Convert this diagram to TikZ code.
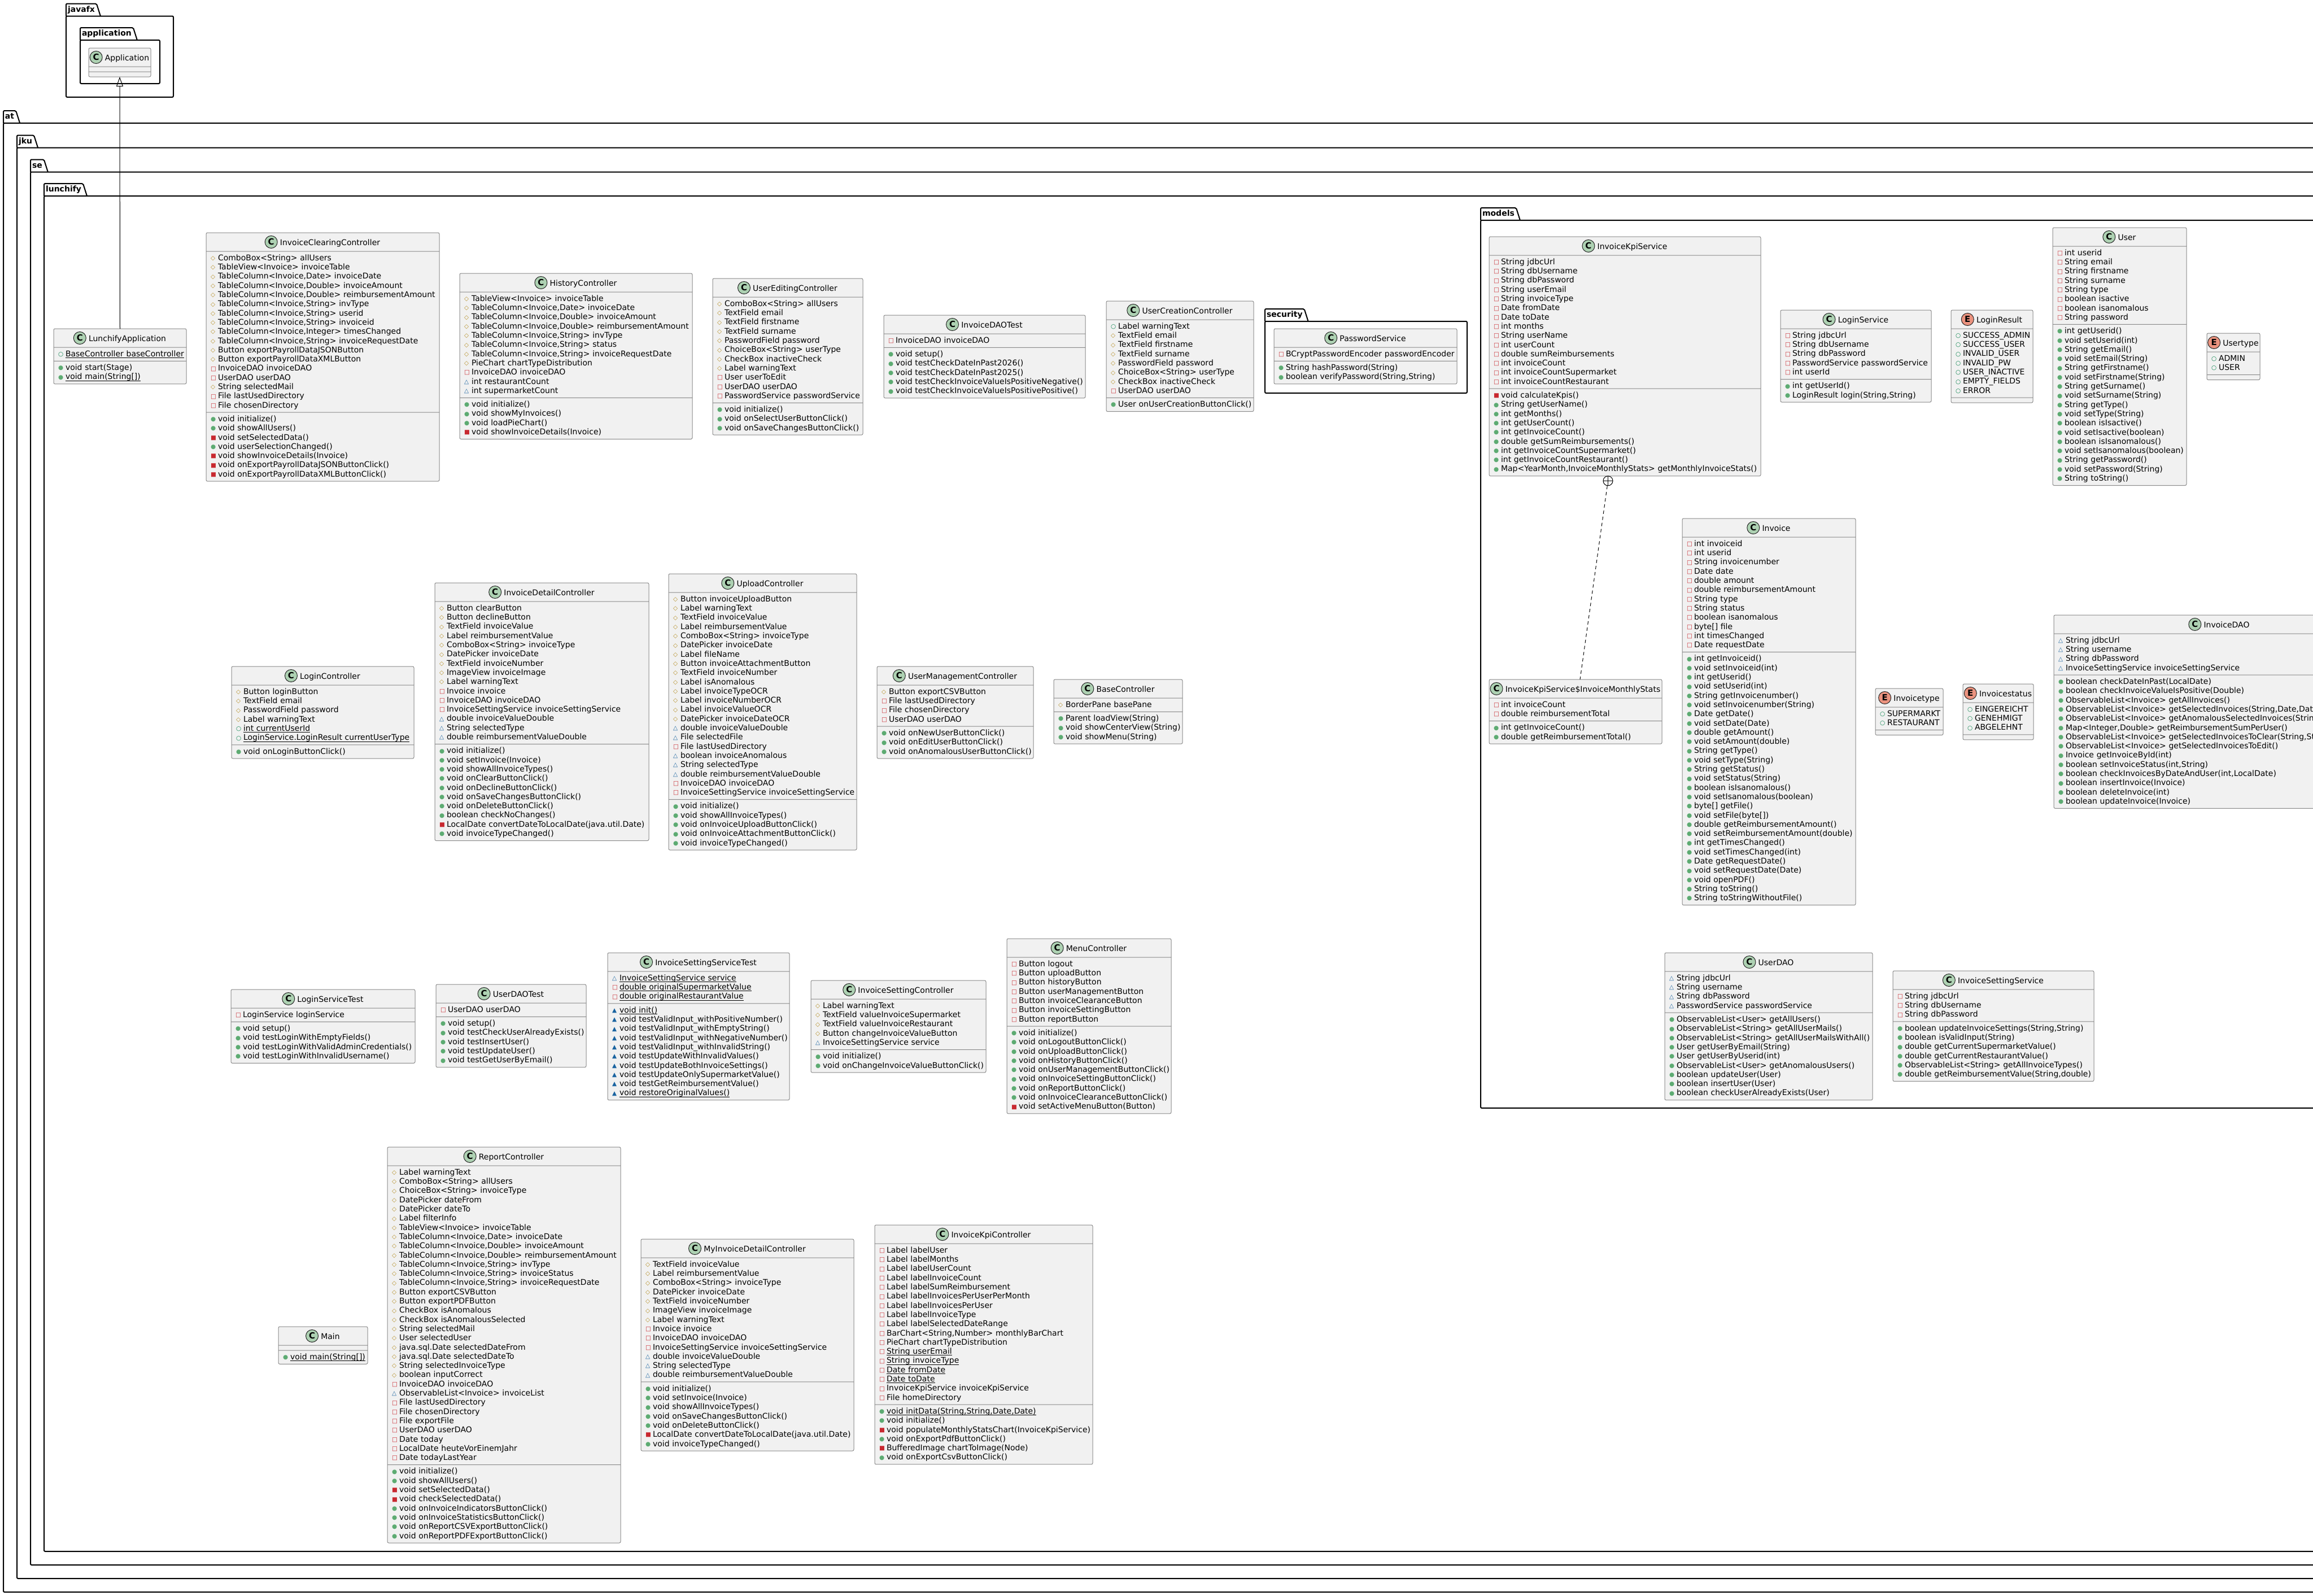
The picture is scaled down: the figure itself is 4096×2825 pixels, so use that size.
\documentclass[tikz,border=0pt]{standalone}
\usepackage{fontspec}
\setmainfont{DejaVu Sans}
\usetikzlibrary{positioning,calc,shapes.multipart,arrows.meta}

\definecolor{classbg}{HTML}{F1F1F1}
\definecolor{classline}{HTML}{8A8A8A}
\definecolor{iconC}{HTML}{ADD1B2}
\definecolor{iconE}{HTML}{EB937F}
\definecolor{vred}{HTML}{C82930}
\definecolor{vgold}{HTML}{B38D22}
\definecolor{vblue}{HTML}{1963A0}
\definecolor{vgreen}{HTML}{038048}
\definecolor{vgreenfill}{HTML}{84BE84}

\newcommand\memline[2]{\noindent\rule[-4pt]{0pt}{16.3pt}\makebox[13pt][l]{\raisebox{0.8pt}{\fontsize{10.5}{10.5}\selectfont #1}}\mbox{#2}\par}
\newcommand\privf[1]{\memline{\color{vred}□}{#1}}
\newcommand\privm[1]{\memline{\color{vred}■}{#1}}
\newcommand\protf[1]{\memline{\color{vgold}◇}{#1}}
\newcommand\pkgf[1]{\memline{\color{vblue}△}{#1}}
\newcommand\pkgm[1]{\memline{\color{vblue}▲}{#1}}
\newcommand\pubf[1]{\memline{\color{vgreen}○}{#1}}
\newcommand\pubm[1]{\memline{\color{vgreenfill!70!vgreen}●}{#1}}
\newcommand\nomember{\noindent\rule{0pt}{1pt}}
\newcommand\statmem[1]{\setbox0\hbox{#1}\rlap{\rule[-2.5pt]{\wd0}{0.8pt}}\box0}

\tikzset{
  classbox/.style={rectangle split, rectangle split parts=3, draw=classline, fill=classbg,
    line width=1pt, rounded corners=2.5pt, inner xsep=8pt, inner ysep=3.5pt, outer sep=0pt,
    align=left, anchor=north west, font=\fontsize{14}{16.3}\selectfont},
  classname/.style={inner sep=0pt, text height=11pt, text depth=0pt, font=\fontsize{14}{16.3}\selectfont},
  kindicon/.style={circle, draw=black!85, line width=1pt, fill=icon#1, minimum size=22pt,
    inner sep=0pt, font=\bfseries\fontsize{15}{15}\selectfont},
  pkgname/.style={anchor=north west, inner xsep=3pt, inner ysep=0pt, outer sep=0pt, minimum height=22pt,
    text height=10pt, text depth=3pt, font=\bfseries\fontsize{14}{16}\selectfont},
  pkgline/.style={line width=2pt, rounded corners=2pt},
  inherit/.style={-{Triangle[open,width=12pt,length=17pt]}, line width=1pt},
  nestmark/.style={circle, draw, line width=1pt, minimum size=17pt, inner sep=0pt, fill=white,
    path picture={\draw[line width=1pt] (path picture bounding box.north) -- (path picture bounding box.south)
      (path picture bounding box.west) -- (path picture bounding box.east);}},
  nested/.style={line width=1pt, dash pattern=on 6pt off 5pt}
}

\newcommand\umlbox[8]{%
  \pgfmathsetmacro\boxtw{#4-16}%
  \node[classbox, text width=\boxtw pt] (#1) at (#2,#3)
    {\noindent\rule{0pt}{25pt}\nodepart{two}#7\nodepart{three}#8};
  \node[classname] (#1-n) at ($(#1.north)+(13,16.5)$) {#6};
  \node[kindicon=#5, left=4pt of #1-n] (#1-k) {#5};
}

\begin{document}
\begin{tikzpicture}[x=1pt,y=-1pt]
\useasboundingbox (0,0) rectangle (4096,2825);
\clip (0,0) rectangle (4096,2825);

\foreach \pk/\x/\y/\r/\b in {javafx/117/6.5/307/172, application/142/49/283/148,
    at/6/196/4200/2819, jku/30/239.5/4200/2795, se/54/282.5/4200/2771, lunchify/78/325/4200/2747,
    security/2240/547/2598/696, models/2622/368/4200/1962}{
  \node[pkgname] (pkg-\pk) at (\x,\y) {\pk};
  \draw[pkgline] (pkg-\pk.south west) -- (pkg-\pk.north west) -- (pkg-\pk.north east) -- ([xshift=7pt]pkg-\pk.south east);
  \draw[pkgline] (pkg-\pk.south west) rectangle (\r,\b);
}

\umlbox{application}{157}{85}{110}{C}{Application}{\nomember}{\nomember}

\umlbox{lunchapp}{95}{582}{235}{C}{LunchifyApplication}
  {\pubf{\statmem{BaseController baseController}}}
  {\pubm{void start(Stage)}\pubm{\statmem{void main(String[])}}}

\umlbox{clearing}{365}{412}{413}{C}{InvoiceClearingController}
  {\protf{ComboBox<String> allUsers}\protf{TableView<Invoice> invoiceTable}
   \protf{TableColumn<Invoice,Date> invoiceDate}\protf{TableColumn<Invoice,Double> invoiceAmount}
   \protf{TableColumn<Invoice,Double> reimbursementAmount}\protf{TableColumn<Invoice,String> invType}
   \protf{TableColumn<Invoice,String> userid}\protf{TableColumn<Invoice,String> invoiceid}
   \protf{TableColumn<Invoice,Integer> timesChanged}\protf{TableColumn<Invoice,String> invoiceRequestDate}
   \protf{Button exportPayrollDataJSONButton}\protf{Button exportPayrollDataXMLButton}
   \privf{InvoiceDAO invoiceDAO}\privf{UserDAO userDAO}\protf{String selectedMail}
   \privf{File lastUsedDirectory}\privf{File chosenDirectory}}
  {\pubm{void initialize()}\pubm{void showAllUsers()}\privm{void setSelectedData()}
   \pubm{void userSelectionChanged()}\privm{void showInvoiceDetails(Invoice)}
   \privm{void onExportPayrollDataJSONButtonClick()}\privm{void onExportPayrollDataXMLButtonClick()}}

\umlbox{history}{814}{484}{412}{C}{HistoryController}
  {\protf{TableView<Invoice> invoiceTable}\protf{TableColumn<Invoice,Date> invoiceDate}
   \protf{TableColumn<Invoice,Double> invoiceAmount}\protf{TableColumn<Invoice,Double> reimbursementAmount}
   \protf{TableColumn<Invoice,String> invType}\protf{TableColumn<Invoice,String> status}
   \protf{TableColumn<Invoice,String> invoiceRequestDate}\protf{PieChart chartTypeDistribution}
   \privf{InvoiceDAO invoiceDAO}\pkgf{int restaurantCount}\pkgf{int supermarketCount}}
  {\pubm{void initialize()}\pubm{void showMyInvoices()}\pubm{void loadPieChart()}
   \privm{void showInvoiceDetails(Invoice)}}

\umlbox{userediting}{1262}{493}{266}{C}{UserEditingController}
  {\protf{ComboBox<String> allUsers}\protf{TextField email}\protf{TextField firstname}
   \protf{TextField surname}\protf{PasswordField password}\protf{ChoiceBox<String> userType}
   \protf{CheckBox inactiveCheck}\protf{Label warningText}\privf{User userToEdit}
   \privf{UserDAO userDAO}\privf{PasswordService passwordService}}
  {\pubm{void initialize()}\pubm{void onSelectUserButtonClick()}\pubm{void onSaveChangesButtonClick()}}

\umlbox{invoicedaotest}{1565}{558}{357}{C}{InvoiceDAOTest}
  {\privf{InvoiceDAO invoiceDAO}}
  {\pubm{void setup()}\pubm{void testCheckDateInPast2026()}\pubm{void testCheckDateInPast2025()}
   \pubm{void testCheckInvoiceValueIsPositiveNegative()}\pubm{void testCheckInvoiceValueIsPositivePositive()}}

\umlbox{usercreation}{1959}{533}{261}{C}{UserCreationController}
  {\pubf{Label warningText}\protf{TextField email}\protf{TextField firstname}\protf{TextField surname}
   \protf{PasswordField password}\protf{ChoiceBox<String> userType}\protf{CheckBox inactiveCheck}
   \privf{UserDAO userDAO}}
  {\pubm{User onUserCreationButtonClick()}}

\umlbox{passwordservice}{2256}{582}{324}{C}{PasswordService}
  {\privf{BCryptPasswordEncoder passwordEncoder}}
  {\pubm{String hashPassword(String)}\pubm{boolean verifyPassword(String,String)}}

\umlbox{kpiservice}{2637}{419}{481}{C}{InvoiceKpiService}
  {\privf{String jdbcUrl}\privf{String dbUsername}\privf{String dbPassword}\privf{String userEmail}
   \privf{String invoiceType}\privf{Date fromDate}\privf{Date toDate}\privf{int months}
   \privf{String userName}\privf{int userCount}\privf{double sumReimbursements}
   \privf{int invoiceCount}\privf{int invoiceCountSupermarket}\privf{int invoiceCountRestaurant}}
  {\privm{void calculateKpis()}\pubm{String getUserName()}\pubm{int getMonths()}
   \pubm{int getUserCount()}\pubm{int getInvoiceCount()}\pubm{double getSumReimbursements()}
   \pubm{int getInvoiceCountSupermarket()}\pubm{int getInvoiceCountRestaurant()}
   \pubm{Map<YearMonth,InvoiceMonthlyStats> getMonthlyInvoiceStats()}}

\umlbox{loginservice}{3153}{549}{267}{C}{LoginService}
  {\privf{String jdbcUrl}\privf{String dbUsername}\privf{String dbPassword}
   \privf{PasswordService passwordService}\privf{int userId}}
  {\pubm{int getUserId()}\pubm{LoginResult login(String,String)}}

\umlbox{loginresult}{3455}{549}{145}{E}{LoginResult}
  {\pubf{SUCCESS\_ADMIN}\pubf{SUCCESS\_USER}\pubf{INVALID\_USER}\pubf{INVALID\_PW}
   \pubf{USER\_INACTIVE}\pubf{EMPTY\_FIELDS}\pubf{ERROR}}
  {\nomember}

\umlbox{user}{3635}{403}{237}{C}{User}
  {\privf{int userid}\privf{String email}\privf{String firstname}\privf{String surname}
   \privf{String type}\privf{boolean isactive}\privf{boolean isanomalous}\privf{String password}}
  {\pubm{int getUserid()}\pubm{void setUserid(int)}\pubm{String getEmail()}\pubm{void setEmail(String)}
   \pubm{String getFirstname()}\pubm{void setFirstname(String)}\pubm{String getSurname()}
   \pubm{void setSurname(String)}\pubm{String getType()}\pubm{void setType(String)}
   \pubm{boolean isIsactive()}\pubm{void setIsactive(boolean)}\pubm{boolean isIsanomalous()}
   \pubm{void setIsanomalous(boolean)}\pubm{String getPassword()}\pubm{void setPassword(String)}
   \pubm{String toString()}}

\umlbox{usertype}{3908}{590}{94}{E}{Usertype}
  {\pubf{ADMIN}\pubf{USER}}
  {\nomember}

\umlbox{monthlystats}{2637}{1203}{306}{C}{InvoiceKpiService\$InvoiceMonthlyStats}
  {\privf{int invoiceCount}\privf{double reimbursementTotal}}
  {\pubm{int getInvoiceCount()}\pubm{double getReimbursementTotal()}}

\umlbox{invoice}{2979}{918}{307}{C}{Invoice}
  {\privf{int invoiceid}\privf{int userid}\privf{String invoicenumber}\privf{Date date}
   \privf{double amount}\privf{double reimbursementAmount}\privf{String type}\privf{String status}
   \privf{boolean isanomalous}\privf{byte[] file}\privf{int timesChanged}\privf{Date requestDate}}
  {\pubm{int getInvoiceid()}\pubm{void setInvoiceid(int)}\pubm{int getUserid()}\pubm{void setUserid(int)}
   \pubm{String getInvoicenumber()}\pubm{void setInvoicenumber(String)}\pubm{Date getDate()}
   \pubm{void setDate(Date)}\pubm{double getAmount()}\pubm{void setAmount(double)}
   \pubm{String getType()}\pubm{void setType(String)}\pubm{String getStatus()}
   \pubm{void setStatus(String)}\pubm{boolean isIsanomalous()}\pubm{void setIsanomalous(boolean)}
   \pubm{byte[] getFile()}\pubm{void setFile(byte[])}\pubm{double getReimbursementAmount()}
   \pubm{void setReimbursementAmount(double)}\pubm{int getTimesChanged()}\pubm{void setTimesChanged(int)}
   \pubm{Date getRequestDate()}\pubm{void setRequestDate(Date)}\pubm{void openPDF()}
   \pubm{String toString()}\pubm{String toStringWithoutFile()}}

\umlbox{invoicetype}{3321}{1219}{120}{E}{Invoicetype}
  {\pubf{SUPERMARKT}\pubf{RESTAURANT}}
  {\nomember}

\umlbox{invoicestatus}{3476}{1211}{125}{E}{Invoicestatus}
  {\pubf{EINGEREICHT}\pubf{GENEHMIGT}\pubf{ABGELEHNT}}
  {\nomember}

\umlbox{invoicedao}{3637}{1089}{586}{C}{InvoiceDAO}
  {\pkgf{String jdbcUrl}\pkgf{String username}\pkgf{String dbPassword}
   \pkgf{InvoiceSettingService invoiceSettingService}}
  {\pubm{boolean checkDateInPast(LocalDate)}\pubm{boolean checkInvoiceValueIsPositive(Double)}
   \pubm{ObservableList<Invoice> getAllInvoices()}
   \pubm{ObservableList<Invoice> getSelectedInvoices(String,Date,Date)}
   \pubm{ObservableList<Invoice> getAnomalousSelectedInvoices(String,Date,Date)}
   \pubm{Map<Integer,Double> getReimbursementSumPerUser()}
   \pubm{ObservableList<Invoice> getSelectedInvoicesToClear(String,String)}
   \pubm{ObservableList<Invoice> getSelectedInvoicesToEdit()}\pubm{Invoice getInvoiceById(int)}
   \pubm{boolean setInvoiceStatus(int,String)}\pubm{boolean checkInvoicesByDateAndUser(int,LocalDate)}
   \pubm{boolean insertInvoice(Invoice)}\pubm{boolean deleteInvoice(int)}\pubm{boolean updateInvoice(Invoice)}}

\umlbox{userdao}{2948}{1687}{368}{C}{UserDAO}
  {\pkgf{String jdbcUrl}\pkgf{String username}\pkgf{String dbPassword}\pkgf{PasswordService passwordService}}
  {\pubm{ObservableList<User> getAllUsers()}\pubm{ObservableList<String> getAllUserMails()}
   \pubm{ObservableList<String> getAllUserMailsWithAll()}\pubm{User getUserByEmail(String)}
   \pubm{User getUserByUserid(int)}\pubm{ObservableList<User> getAnomalousUsers()}
   \pubm{boolean updateUser(User)}\pubm{boolean insertUser(User)}\pubm{boolean checkUserAlreadyExists(User)}}

\umlbox{settingservice}{3352}{1719}{356}{C}{InvoiceSettingService}
  {\privf{String jdbcUrl}\privf{String dbUsername}\privf{String dbPassword}}
  {\pubm{boolean updateInvoiceSettings(String,String)}\pubm{boolean isValidInput(String)}
   \pubm{double getCurrentSupermarketValue()}\pubm{double getCurrentRestaurantValue()}
   \pubm{ObservableList<String> getAllInvoiceTypes()}\pubm{double getReimbursementValue(String,double)}}

\umlbox{logincontroller}{410}{1180}{323}{C}{LoginController}
  {\protf{Button loginButton}\protf{TextField email}\protf{PasswordField password}\protf{Label warningText}
   \pubf{\statmem{int currentUserId}}\pubf{\statmem{LoginService.LoginResult currentUserType}}}
  {\pubm{void onLoginButtonClick()}}

\umlbox{detailcontroller}{770}{1032}{379}{C}{InvoiceDetailController}
  {\protf{Button clearButton}\protf{Button declineButton}\protf{TextField invoiceValue}
   \protf{Label reimbursementValue}\protf{ComboBox<String> invoiceType}\protf{DatePicker invoiceDate}
   \protf{TextField invoiceNumber}\protf{ImageView invoiceImage}\protf{Label warningText}
   \privf{Invoice invoice}\privf{InvoiceDAO invoiceDAO}\privf{InvoiceSettingService invoiceSettingService}
   \pkgf{double invoiceValueDouble}\pkgf{String selectedType}\pkgf{double reimbursementValueDouble}}
  {\pubm{void initialize()}\pubm{void setInvoice(Invoice)}\pubm{void showAllInvoiceTypes()}
   \pubm{void onClearButtonClick()}\pubm{void onDeclineButtonClick()}\pubm{void onSaveChangesButtonClick()}
   \pubm{void onDeleteButtonClick()}\pubm{boolean checkNoChanges()}
   \privm{LocalDate convertDateToLocalDate(java.util.Date)}\pubm{void invoiceTypeChanged()}}

\umlbox{upload}{1184}{1016}{333}{C}{UploadController}
  {\protf{Button invoiceUploadButton}\protf{Label warningText}\protf{TextField invoiceValue}
   \protf{Label reimbursementValue}\protf{ComboBox<String> invoiceType}\protf{DatePicker invoiceDate}
   \protf{Label fileName}\protf{Button invoiceAttachmentButton}\protf{TextField invoiceNumber}
   \protf{Label isAnomalous}\protf{Label invoiceTypeOCR}\protf{Label invoiceNumberOCR}
   \protf{Label invoiceValueOCR}\protf{DatePicker invoiceDateOCR}\pkgf{double invoiceValueDouble}
   \pkgf{File selectedFile}\privf{File lastUsedDirectory}\pkgf{boolean invoiceAnomalous}
   \pkgf{String selectedType}\pkgf{double reimbursementValueDouble}\privf{InvoiceDAO invoiceDAO}
   \privf{InvoiceSettingService invoiceSettingService}}
  {\pubm{void initialize()}\pubm{void showAllInvoiceTypes()}\pubm{void onInvoiceUploadButtonClick()}
   \pubm{void onInvoiceAttachmentButtonClick()}\pubm{void invoiceTypeChanged()}}

\umlbox{usermgmt}{1553}{1180}{277}{C}{UserManagementController}
  {\protf{Button exportCSVButton}\privf{File lastUsedDirectory}\privf{File chosenDirectory}\privf{UserDAO userDAO}}
  {\pubm{void onNewUserButtonClick()}\pubm{void onEditUserButtonClick()}\pubm{void onAnomalousUserButtonClick()}}

\umlbox{basecontroller}{1866}{1203}{228}{C}{BaseController}
  {\protf{BorderPane basePane}}
  {\pubm{Parent loadView(String)}\pubm{void showCenterView(String)}\pubm{void showMenu(String)}}

\umlbox{loginservicetest}{409}{1752}{326}{C}{LoginServiceTest}
  {\privf{LoginService loginService}}
  {\pubm{void setup()}\pubm{void testLoginWithEmptyFields()}\pubm{void testLoginWithValidAdminCredentials()}
   \pubm{void testLoginWithInvalidUsername()}}

\umlbox{userdaotest}{772}{1743}{266}{C}{UserDAOTest}
  {\privf{UserDAO userDAO}}
  {\pubm{void setup()}\pubm{void testCheckUserAlreadyExists()}\pubm{void testInsertUser()}
   \pubm{void testUpdateUser()}\pubm{void testGetUserByEmail()}}

\umlbox{settingservicetest}{1076}{1687}{322}{C}{InvoiceSettingServiceTest}
  {\pkgf{\statmem{InvoiceSettingService service}}\privf{\statmem{double originalSupermarketValue}}
   \privf{\statmem{double originalRestaurantValue}}}
  {\pkgm{\statmem{void init()}}\pkgm{void testValidInput\_withPositiveNumber()}
   \pkgm{void testValidInput\_withEmptyString()}\pkgm{void testValidInput\_withNegativeNumber()}
   \pkgm{void testValidInput\_withInvalidString()}\pkgm{void testUpdateWithInvalidValues()}
   \pkgm{void testUpdateBothInvoiceSettings()}\pkgm{void testUpdateOnlySupermarketValue()}
   \pkgm{void testGetReimbursementValue()}\pkgm{\statmem{void restoreOriginalValues()}}}

\umlbox{settingcontroller}{1436}{1736}{310}{C}{InvoiceSettingController}
  {\protf{Label warningText}\protf{TextField valueInvoiceSupermarket}\protf{TextField valueInvoiceRestaurant}
   \protf{Button changeInvoiceValueButton}\pkgf{InvoiceSettingService service}}
  {\pubm{void initialize()}\pubm{void onChangeInvoiceValueButtonClick()}}

\umlbox{menu}{1783}{1662}{291}{C}{MenuController}
  {\privf{Button logout}\privf{Button uploadButton}\privf{Button historyButton}
   \privf{Button userManagementButton}\privf{Button invoiceClearanceButton}
   \privf{Button invoiceSettingButton}\privf{Button reportButton}}
  {\pubm{void initialize()}\pubm{void onLogoutButtonClick()}\pubm{void onUploadButtonClick()}
   \pubm{void onHistoryButtonClick()}\pubm{void onUserManagementButtonClick()}
   \pubm{void onInvoiceSettingButtonClick()}\pubm{void onReportButtonClick()}
   \pubm{void onInvoiceClearanceButtonClick()}\privm{void setActiveMenuButton(Button)}}

\umlbox{main}{493}{2349}{158}{C}{Main}
  {\nomember}
  {\pubm{\statmem{void main(String[])}}}

\umlbox{report}{686}{2031}{413}{C}{ReportController}
  {\protf{Label warningText}\protf{ComboBox<String> allUsers}\protf{ChoiceBox<String> invoiceType}
   \protf{DatePicker dateFrom}\protf{DatePicker dateTo}\protf{Label filterInfo}
   \protf{TableView<Invoice> invoiceTable}\protf{TableColumn<Invoice,Date> invoiceDate}
   \protf{TableColumn<Invoice,Double> invoiceAmount}\protf{TableColumn<Invoice,Double> reimbursementAmount}
   \protf{TableColumn<Invoice,String> invType}\protf{TableColumn<Invoice,String> invoiceStatus}
   \protf{TableColumn<Invoice,String> invoiceRequestDate}\protf{Button exportCSVButton}
   \protf{Button exportPDFButton}\protf{CheckBox isAnomalous}\protf{CheckBox isAnomalousSelected}
   \protf{String selectedMail}\protf{User selectedUser}\protf{java.sql.Date selectedDateFrom}
   \protf{java.sql.Date selectedDateTo}\protf{String selectedInvoiceType}\protf{boolean inputCorrect}
   \privf{InvoiceDAO invoiceDAO}\pkgf{ObservableList<Invoice> invoiceList}\privf{File lastUsedDirectory}
   \privf{File chosenDirectory}\privf{File exportFile}\privf{UserDAO userDAO}\privf{Date today}
   \privf{LocalDate heuteVorEinemJahr}\privf{Date todayLastYear}}
  {\pubm{void initialize()}\pubm{void showAllUsers()}\privm{void setSelectedData()}
   \privm{void checkSelectedData()}\pubm{void onInvoiceIndicatorsButtonClick()}
   \pubm{void onInvoiceStatisticsButtonClick()}\pubm{void onReportCSVExportButtonClick()}
   \pubm{void onReportPDFExportButtonClick()}}

\umlbox{myinvoicedetail}{1135}{2194}{377}{C}{MyInvoiceDetailController}
  {\protf{TextField invoiceValue}\protf{Label reimbursementValue}\protf{ComboBox<String> invoiceType}
   \protf{DatePicker invoiceDate}\protf{TextField invoiceNumber}\protf{ImageView invoiceImage}
   \protf{Label warningText}\privf{Invoice invoice}\privf{InvoiceDAO invoiceDAO}
   \privf{InvoiceSettingService invoiceSettingService}\pkgf{double invoiceValueDouble}
   \pkgf{String selectedType}\pkgf{double reimbursementValueDouble}}
  {\pubm{void initialize()}\pubm{void setInvoice(Invoice)}\pubm{void showAllInvoiceTypes()}
   \pubm{void onSaveChangesButtonClick()}\pubm{void onDeleteButtonClick()}
   \privm{LocalDate convertDateToLocalDate(java.util.Date)}\pubm{void invoiceTypeChanged()}}

\umlbox{kpicontroller}{1549}{2169}{386}{C}{InvoiceKpiController}
  {\privf{Label labelUser}\privf{Label labelMonths}\privf{Label labelUserCount}\privf{Label labelInvoiceCount}
   \privf{Label labelSumReimbursement}\privf{Label labelInvoicesPerUserPerMonth}
   \privf{Label labelInvoicesPerUser}\privf{Label labelInvoiceType}\privf{Label labelSelectedDateRange}
   \privf{BarChart<String,Number> monthlyBarChart}\privf{PieChart chartTypeDistribution}
   \privf{\statmem{String userEmail}}\privf{\statmem{String invoiceType}}\privf{\statmem{Date fromDate}}
   \privf{\statmem{Date toDate}}\privf{InvoiceKpiService invoiceKpiService}\privf{File homeDirectory}}
  {\pubm{\statmem{void initData(String,String,Date,Date)}}\pubm{void initialize()}
   \privm{void populateMonthlyStatsChart(InvoiceKpiService)}\pubm{void onExportPdfButtonClick()}
   \privm{BufferedImage chartToImage(Node)}\pubm{void onExportCsvButtonClick()}}

\draw[inherit] (lunchapp.north) -- (application.south);

\node[nestmark] (nestplus) at ($(kpiservice.south west)+(210.5,8.5)$) {};
\draw[nested] (nestplus) -- ([xshift=8pt]monthlystats.north);
\end{tikzpicture}
\end{document}
